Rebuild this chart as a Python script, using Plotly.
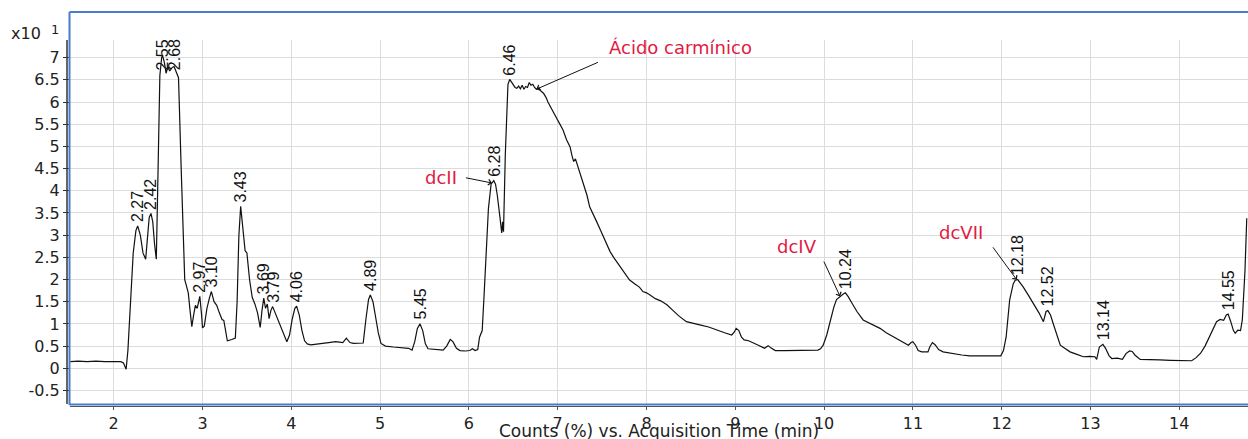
import numpy as np
import plotly.graph_objects as go

# Chromatogram trace: acquisition time (min) and response (x10^1 counts %)
time_min = [
    1.51, 1.60, 1.70, 1.80, 1.90, 2.00, 2.08, 2.11, 2.14, 2.16, 2.19, 2.22, 2.25, 2.27, 2.30,
    2.33, 2.36, 2.38, 2.40, 2.42, 2.44, 2.46, 2.48, 2.50, 2.52, 2.54, 2.55, 2.57, 2.59, 2.61,
    2.63, 2.66, 2.68, 2.70, 2.73, 2.76, 2.78, 2.80, 2.82, 2.84, 2.86, 2.88, 2.90, 2.92, 2.94,
    2.97, 2.99, 3.00, 3.02, 3.05, 3.08, 3.10, 3.13, 3.16, 3.19, 3.22, 3.24, 3.26, 3.28, 3.33,
    3.37, 3.39, 3.41, 3.43, 3.45, 3.48, 3.50, 3.53, 3.56, 3.59, 3.62, 3.65, 3.67, 3.69, 3.71,
    3.73, 3.75, 3.77, 3.79, 3.83, 3.87, 3.91, 3.95, 3.98, 4.01, 4.04, 4.06, 4.09, 4.12, 4.15,
    4.18, 4.22, 4.28, 4.35, 4.42, 4.50, 4.55, 4.58, 4.62, 4.66, 4.70, 4.76, 4.81, 4.84, 4.87,
    4.89, 4.92, 4.95, 4.98, 5.01, 5.06, 5.15, 5.25, 5.32, 5.36, 5.39, 5.42, 5.45, 5.48, 5.51,
    5.54, 5.62, 5.71, 5.75, 5.79, 5.82, 5.86, 5.90, 5.96, 6.01, 6.04, 6.07, 6.10, 6.12, 6.15,
    6.17, 6.20, 6.22, 6.25, 6.28, 6.30, 6.32, 6.35, 6.37, 6.38, 6.39, 6.41, 6.44, 6.46, 6.48,
    6.50, 6.52, 6.54, 6.56, 6.58, 6.60, 6.62, 6.64, 6.66, 6.68, 6.70, 6.72, 6.74, 6.76, 6.79,
    6.81, 6.84, 6.87, 6.89, 6.91, 6.95, 6.99, 7.02, 7.06, 7.10, 7.14, 7.16, 7.18, 7.20, 7.22,
    7.25, 7.29, 7.33, 7.36, 7.40, 7.44, 7.48, 7.52, 7.56, 7.59, 7.63, 7.67, 7.70, 7.75, 7.81,
    7.87, 7.92, 7.96, 8.00, 8.04, 8.10, 8.16, 8.23, 8.30, 8.37, 8.45, 8.52, 8.60, 8.70, 8.79,
    8.88, 8.96, 8.99, 9.01, 9.04, 9.07, 9.10, 9.15, 9.20, 9.26, 9.33, 9.37, 9.40, 9.45, 9.55,
    9.65, 9.73, 9.83, 9.93, 9.96, 9.99, 10.03, 10.07, 10.11, 10.14, 10.18, 10.22, 10.24, 10.27, 10.32,
    10.37, 10.44, 10.53, 10.63, 10.70, 10.78, 10.87, 10.95, 10.98, 11.00, 11.03, 11.06, 11.10, 11.17, 11.19,
    11.22, 11.25, 11.29, 11.34, 11.45, 11.55, 11.64, 11.75, 11.85, 11.95, 11.99, 12.02, 12.05, 12.09, 12.13,
    12.15, 12.18, 12.21, 12.24, 12.30, 12.36, 12.42, 12.47, 12.50, 12.52, 12.55, 12.58, 12.62, 12.66, 12.71,
    12.77, 12.84, 12.92, 12.99, 13.05, 13.07, 13.10, 13.14, 13.17, 13.21, 13.24, 13.30, 13.36, 13.40, 13.44,
    13.47, 13.50, 13.56, 13.65, 13.78, 13.90, 14.00, 14.08, 14.14, 14.19, 14.24, 14.29, 14.34, 14.38, 14.42,
    14.46, 14.50, 14.53, 14.55, 14.58, 14.61, 14.63, 14.66, 14.69, 14.71, 14.74, 14.76,
]
response = [
    0.15, 0.16, 0.15, 0.16, 0.15, 0.15, 0.15, 0.12, -0.02, 0.40, 1.60, 2.60, 3.10, 3.21, 3.00,
    2.60, 2.46, 2.90, 3.40, 3.49, 3.30, 2.80, 2.46, 4.50, 6.60, 7.00, 7.05, 6.90, 6.65, 6.80,
    6.70, 6.78, 6.80, 6.70, 6.55, 4.50, 3.00, 2.00, 1.85, 1.70, 1.30, 0.94, 1.20, 1.42, 1.35,
    1.62, 1.20, 0.91, 0.95, 1.35, 1.60, 1.73, 1.50, 1.42, 1.25, 1.10, 1.08, 0.85, 0.62, 0.65,
    0.68, 1.50, 3.00, 3.65, 3.20, 2.65, 2.60, 2.00, 1.60, 1.45, 1.25, 0.92, 1.30, 1.58, 1.35,
    1.45, 1.12, 1.30, 1.39, 1.20, 1.00, 0.80, 0.60, 0.75, 1.10, 1.35, 1.40, 1.20, 0.85, 0.62,
    0.55, 0.53, 0.55, 0.57, 0.58, 0.60, 0.59, 0.58, 0.68, 0.58, 0.56, 0.56, 0.57, 1.10, 1.55,
    1.65, 1.50, 1.15, 0.80, 0.56, 0.50, 0.48, 0.46, 0.45, 0.41, 0.60, 0.90, 1.00, 0.85, 0.55,
    0.44, 0.42, 0.41, 0.50, 0.65, 0.60, 0.45, 0.40, 0.39, 0.40, 0.44, 0.40, 0.42, 0.70, 0.85,
    1.60, 2.70, 3.60, 4.15, 4.23, 4.15, 3.90, 3.40, 3.05, 3.30, 3.08, 4.80, 6.40, 6.51, 6.45,
    6.36, 6.33, 6.31, 6.36, 6.30, 6.38, 6.29, 6.35, 6.33, 6.44, 6.38, 6.40, 6.33, 6.29, 6.32,
    6.25, 6.20, 6.10, 6.00, 5.93, 5.80, 5.63, 5.52, 5.37, 5.15, 4.99, 4.80, 4.66, 4.72, 4.60,
    4.40, 4.17, 3.90, 3.64, 3.45, 3.30, 3.12, 2.95, 2.75, 2.63, 2.50, 2.38, 2.29, 2.15, 1.99,
    1.90, 1.83, 1.73, 1.70, 1.65, 1.57, 1.52, 1.43, 1.30, 1.17, 1.05, 1.01, 0.98, 0.93, 0.86,
    0.80, 0.75, 0.82, 0.90, 0.85, 0.70, 0.64, 0.62, 0.58, 0.52, 0.45, 0.51, 0.46, 0.40, 0.40,
    0.40, 0.40, 0.41, 0.41, 0.44, 0.52, 0.75, 1.09, 1.38, 1.55, 1.62, 1.68, 1.70, 1.62, 1.45,
    1.28, 1.09, 1.00, 0.90, 0.80, 0.71, 0.62, 0.52, 0.58, 0.60, 0.52, 0.40, 0.37, 0.37, 0.48,
    0.58, 0.53, 0.42, 0.37, 0.33, 0.30, 0.28, 0.28, 0.28, 0.28, 0.28, 0.40, 0.70, 1.54, 1.90,
    1.98, 2.00, 1.92, 1.84, 1.65, 1.46, 1.25, 1.05, 1.28, 1.30, 1.20, 1.01, 0.75, 0.52, 0.45,
    0.37, 0.32, 0.26, 0.27, 0.26, 0.20, 0.48, 0.54, 0.45, 0.28, 0.22, 0.23, 0.20, 0.33, 0.39,
    0.38, 0.30, 0.20, 0.19, 0.19, 0.18, 0.18, 0.18, 0.17, 0.24, 0.34, 0.50, 0.71, 0.90, 1.05,
    1.10, 1.08, 1.20, 1.22, 1.05, 0.85, 0.79, 0.86, 0.85, 1.09, 2.20, 3.38,
]

# Retention times printed above the integrated peaks
peak_labels = ["2.27", "2.42", "2.55", "2.68", "2.97", "3.10", "3.43", "3.69", "3.79", "4.06",
               "4.89", "5.45", "6.28", "6.46", "10.24", "12.18", "12.52", "13.14", "14.55"]

# Named compounds: label, label position (time, response), arrow tail, arrow head time
compound_names = ["Ácido carmínico", "dcII", "dcIV", "dcVII"]
compound_text_t = [8.38, 5.69, 9.70, 11.54]
compound_text_v = [7.24, 4.31, 2.74, 3.06]
compound_tail_t = [7.47, 5.95, 9.99, 11.89]
compound_tail_v = [6.91, 4.30, 2.44, 2.76]
compound_head_t = [6.76, 6.26, 10.18, 12.17]

x_ticks = list(range(2, 15))
x_ticktext = [str(v) for v in x_ticks]
y_ticks = [-0.5, 0, 0.5, 1, 1.5, 2, 2.5, 3, 3.5, 4, 4.5, 5, 5.5, 6, 6.5, 7]
y_ticktext = ["-0.5", "0", "0.5", "1", "1.5", "2", "2.5", "3", "3.5", "4", "4.5", "5",
              "5.5", "6", "6.5", "7"]

W, H = 1248, 439
ML, MR, MT, MB = 70, 0, 40, 33
PW, PH = W - ML - MR, H - MT - MB
X_RANGE = [1.508, 14.774]
Y_RANGE = [-0.850, 7.399]


def px_x(p):
    return (p - ML) / PW


def px_y(p):
    return (H - MB - p) / PH


t_arr = np.array(time_min)
v_arr = np.array(response)

RED = "#e21a43"
BLUE = "#4a7cc9"
TICK_FONT = dict(family="DejaVu Sans", size=16, color="#222222")
PEAK_FONT = dict(family="Liberation Sans", size=16, color="#111111")

fig = go.Figure()
fig.add_trace(go.Scatter(x=time_min, y=response, mode="lines",
                         line=dict(color="#111111", width=1.2),
                         hoverinfo="skip", showlegend=False))

annotations = []

# Rotated retention-time labels sitting on each peak apex (kept inside the top edge)
label_cap = 6.62
for lab in peak_labels:
    t = float(lab)
    pv = float(np.interp(t, t_arr, v_arr))
    annotations.append(dict(x=t, y=min(pv, label_cap), xref="x", yref="y",
                            text=lab, showarrow=False, textangle=-90,
                            xanchor="center", yanchor="bottom", yshift=2,
                            font=PEAK_FONT))

# Compound names with leader arrows
for name, tx, tv, at, av, ht in zip(compound_names, compound_text_t, compound_text_v,
                                     compound_tail_t, compound_tail_v, compound_head_t):
    annotations.append(dict(x=tx, y=tv, xref="x", yref="y", text=name, showarrow=False,
                            xanchor="center", yanchor="middle",
                            font=dict(family="DejaVu Sans", size=18, color=RED)))
    hv = float(np.interp(ht, t_arr, v_arr))
    annotations.append(dict(x=ht, y=hv, xref="x", yref="y", ax=at, ay=av,
                            axref="x", ayref="y", text="", showarrow=True,
                            arrowhead=4, arrowsize=1.1, arrowwidth=1,
                            arrowcolor="#111111", standoff=0, startstandoff=0))

# Axis scale factor and title
annotations.append(dict(x=px_x(43), y=px_y(33), xref="paper", yref="paper", text="x10",
                        showarrow=False, xanchor="right", yanchor="middle",
                        font=dict(family="DejaVu Sans", size=16, color="#222222")))
annotations.append(dict(x=px_x(49), y=px_y(30), xref="paper", yref="paper", text="1",
                        showarrow=False, xanchor="left", yanchor="middle",
                        font=dict(family="DejaVu Sans", size=13, color="#222222")))
annotations.append(dict(x=0.5, y=px_y(431), xref="paper", yref="paper",
                        text="Counts (%) vs. Acquisition Time (min)", showarrow=False,
                        xanchor="center", yanchor="middle",
                        font=dict(family="DejaVu Sans", size=17, color="#222222")))

shapes = [
    # dark y-axis spine
    dict(type="line", xref="paper", yref="paper", x0=px_x(67), x1=px_x(67),
         y0=px_y(404), y1=1, line=dict(color="#333333", width=1.5)),
    # blue frame
    dict(type="line", xref="paper", yref="paper", x0=px_x(69.5), x1=px_x(69.5),
         y0=px_y(405), y1=px_y(12), line=dict(color=BLUE, width=2)),
    dict(type="line", xref="paper", yref="paper", x0=px_x(69.5), x1=1.0,
         y0=px_y(12), y1=px_y(12), line=dict(color=BLUE, width=2)),
    dict(type="line", xref="paper", yref="paper", x0=px_x(69.5), x1=1.0,
         y0=px_y(404.5), y1=px_y(404.5), line=dict(color=BLUE, width=2)),
]

fig.update_layout(
    width=W, height=H,
    margin=dict(l=ML, r=MR, t=MT, b=MB, pad=0),
    paper_bgcolor="white", plot_bgcolor="white",
    showlegend=False,
    annotations=annotations,
    shapes=shapes,
    xaxis=dict(range=X_RANGE, tickmode="array", tickvals=x_ticks, ticktext=x_ticktext,
               showgrid=True, gridcolor="#dcdcdc", gridwidth=1.2, zeroline=False,
               showline=True, linecolor="#555555", linewidth=1,
               ticks="outside", ticklen=3, tickcolor="#555555",
               tickfont=TICK_FONT, fixedrange=True),
    yaxis=dict(range=Y_RANGE, tickmode="array", tickvals=y_ticks, ticktext=y_ticktext,
               showgrid=True, gridcolor="#dcdcdc", gridwidth=1.2, zeroline=False,
               showline=False, ticks="outside", ticklen=6, tickcolor="#333333",
               tickfont=TICK_FONT, fixedrange=True),
)

fig.write_html("out.html", config={"displayModeBar": False})
